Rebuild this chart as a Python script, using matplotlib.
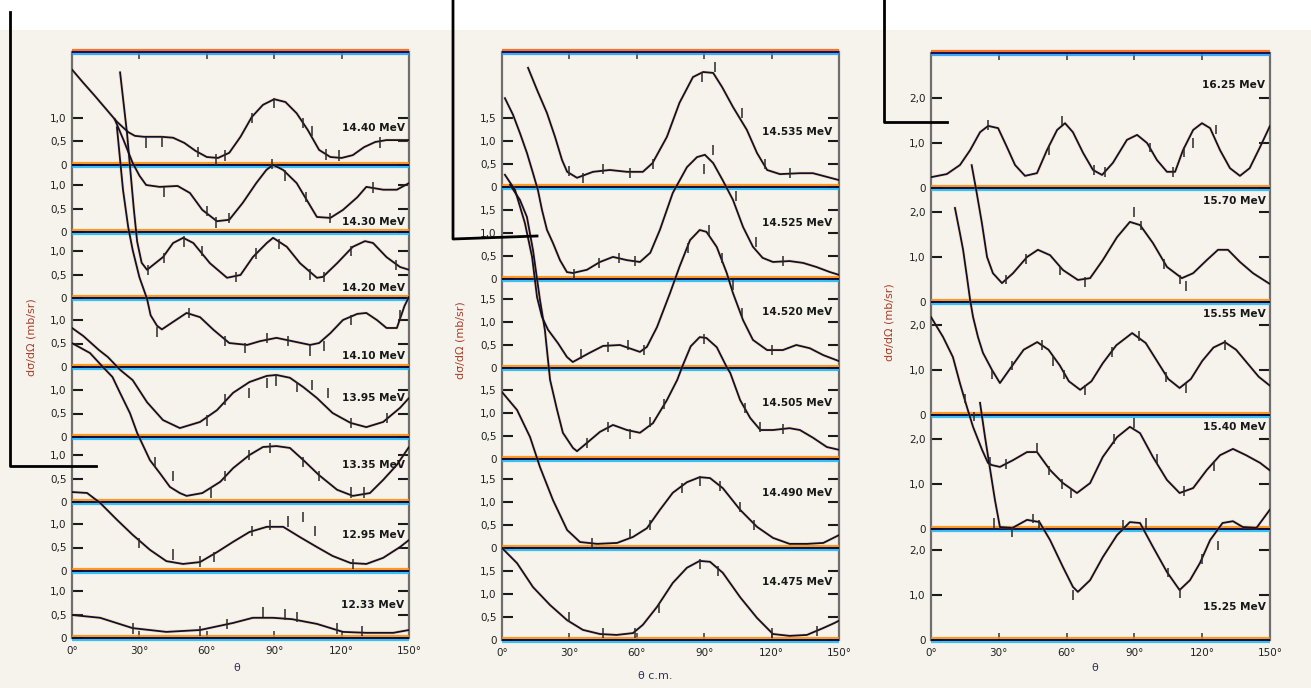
import matplotlib
matplotlib.use("Agg")
import matplotlib.pyplot as plt
from matplotlib.transforms import ScaledTranslation
from matplotlib.lines import Line2D
from matplotlib.patches import Rectangle

# ------------------------------------------------------------------ data
# ---- left panel (dsigma/dOmega in mb/sr vs theta in degrees)
L_labels = ["14.40 MeV", "14.30 MeV", "14.20 MeV", "14.10 MeV",
            "13.95 MeV", "13.35 MeV", "12.95 MeV", "12.33 MeV"]
L1_ang = [0, 5, 10, 15, 20, 25, 28, 32, 40, 45, 50, 55, 60, 65, 70, 75, 80, 85, 90, 95, 100, 105, 110, 115, 120, 125, 130, 135, 140, 150]
L1_val = [2.03, 1.75, 1.48, 1.2, 0.92, 0.7, 0.62, 0.6, 0.6, 0.58, 0.47, 0.3, 0.17, 0.15, 0.26, 0.6, 1.02, 1.28, 1.40, 1.34, 1.1, 0.74, 0.32, 0.17, 0.15, 0.21, 0.38, 0.49, 0.53, 0.53]
L2_ang = [19, 23, 27, 30, 33, 39, 47, 52.5, 58, 64.5, 70, 76, 82, 86.5, 89.5, 94, 100, 104.5, 109, 115, 120.6, 127, 131, 138.5, 144.6, 150]
L2_val = [2.4, 1.95, 1.47, 1.2, 1.0, 0.96, 0.98, 0.83, 0.47, 0.23, 0.26, 0.62, 1.04, 1.32, 1.43, 1.32, 1.04, 0.68, 0.32, 0.3, 0.47, 0.74, 0.96, 0.9, 0.9, 1.04]
L3_ang = [21.4, 24.5, 26, 27.5, 29, 31, 33.4, 40.5, 45, 49.5, 54, 61.4, 69, 75, 80.5, 86.7, 89.5, 95.6, 101.5, 109, 111.7, 118, 125, 130.4, 134, 140, 146, 150]
L3_val = [4.8, 3.5, 2.7, 1.9, 1.2, 0.75, 0.6, 0.87, 1.17, 1.28, 1.17, 0.74, 0.43, 0.49, 0.87, 1.17, 1.28, 1.09, 0.74, 0.43, 0.45, 0.74, 1.09, 1.21, 1.17, 0.87, 0.66, 0.6]
L4_ang = [20, 22.7, 25, 27, 30, 33.4, 35, 37.8, 40, 45, 51, 57, 63, 70, 78, 83.7, 91, 98, 106, 110, 115, 120.6, 127, 131, 135.7, 140, 144.6, 148, 150]
L4_val = [5.1, 3.77, 2.98, 2.49, 1.91, 1.45, 1.1, 0.88, 0.8, 0.96, 1.15, 1.06, 0.79, 0.51, 0.47, 0.55, 0.62, 0.55, 0.47, 0.51, 0.72, 1.0, 1.13, 1.15, 1.0, 0.83, 0.83, 1.3, 1.49]
L5_ang = [0, 5, 12, 16, 21.4, 27, 33.4, 40.5, 48, 57, 64.5, 71.7, 79, 86.7, 91, 97, 103, 109, 116, 124, 131, 138.5, 146, 150]
L5_val = [2.32, 2.15, 1.85, 1.7, 1.43, 1.21, 0.74, 0.36, 0.19, 0.32, 0.57, 0.94, 1.17, 1.30, 1.32, 1.26, 1.06, 0.83, 0.51, 0.30, 0.21, 0.32, 0.62, 0.83]
L6_ang = [0, 8, 13.8, 18, 21.4, 25.8, 29, 34.7, 39, 43.6, 48, 51, 58, 66, 71.7, 79, 85, 91, 97, 103, 110, 118, 125, 132.6, 138.5, 144.6, 150]
L6_val = [3.38, 3.17, 2.87, 2.66, 2.32, 1.89, 1.47, 0.89, 0.62, 0.32, 0.19, 0.13, 0.19, 0.43, 0.72, 1.0, 1.17, 1.19, 1.15, 0.89, 0.57, 0.26, 0.13, 0.19, 0.47, 0.79, 1.17]
L7_ang = [0, 6.7, 12.5, 20, 27, 34.7, 42, 49.4, 57, 64.5, 71.7, 79, 86.7, 94, 101.5, 109, 116, 124, 131, 138.5, 146, 150]
L7_val = [1.68, 1.66, 1.45, 1.09, 0.77, 0.45, 0.21, 0.15, 0.19, 0.40, 0.62, 0.83, 0.94, 0.94, 0.72, 0.51, 0.32, 0.17, 0.15, 0.28, 0.51, 0.66]
L8_ang = [0, 12.5, 27, 42, 57, 71.7, 80.5, 89.5, 98, 109, 120.6, 131, 143, 150]
L8_val = [0.49, 0.43, 0.21, 0.13, 0.17, 0.32, 0.43, 0.43, 0.40, 0.30, 0.13, 0.11, 0.11, 0.17]

L1_pa = [33, 40, 56, 64, 68, 80, 90, 103, 107, 113, 119, 137]
L1_pv = [0.48, 0.5, 0.28, 0.12, 0.2, 1.0, 1.32, 0.9, 0.72, 0.22, 0.2, 0.48]
L2_pa = [41, 60, 64, 70, 89, 95, 104, 115, 134]
L2_pv = [0.85, 0.45, 0.2, 0.3, 1.45, 1.2, 0.75, 0.3, 0.95]
L3_pa = [34, 41, 50, 58, 73, 82, 92, 106, 112, 124, 144]
L3_pv = [0.6, 0.85, 1.2, 1.0, 0.45, 0.95, 1.15, 0.5, 0.45, 1.0, 0.7]
L4_pa = [38, 52, 68, 77, 87, 96, 106, 112, 124, 146]
L4_pv = [0.75, 1.15, 0.55, 0.4, 0.62, 0.55, 0.35, 0.45, 1.0, 1.1]
L5_pa = [60, 68, 79, 87, 91, 100, 107, 114, 124, 140]
L5_pv = [0.35, 0.8, 0.94, 1.15, 1.2, 1.06, 1.1, 0.94, 0.3, 0.4]
L6_pa = [37, 45, 62, 68, 79, 88, 103, 110, 124, 130]
L6_pv = [0.85, 0.55, 0.2, 0.55, 1.0, 1.15, 0.85, 0.55, 0.2, 0.2]
L7_pa = [30, 45, 57, 63, 80, 88, 96, 103, 108, 125]
L7_pv = [0.6, 0.35, 0.2, 0.3, 0.85, 0.98, 1.05, 1.15, 0.85, 0.15]
L8_pa = [27, 57, 69, 85, 95, 100, 118, 129]
L8_pv = [0.2, 0.15, 0.3, 0.55, 0.5, 0.45, 0.2, 0.15]

# ---- middle panel
M_labels = ["14.535 MeV", "14.525 MeV", "14.520 MeV", "14.505 MeV", "14.490 MeV", "14.475 MeV"]
M1_ang = [11.6, 15.6, 20, 23.6, 26.7, 29, 33.4, 40.5, 48, 55.6, 62.7, 67, 73.4, 79, 85, 89.5, 94, 98, 102.8, 109, 113.5, 118, 123.7, 132.6, 138.4, 144.6, 150]
M1_val = [2.59, 2.11, 1.61, 1.09, 0.59, 0.33, 0.20, 0.33, 0.37, 0.33, 0.33, 0.52, 1.09, 1.83, 2.39, 2.5, 2.48, 2.17, 1.74, 1.24, 0.74, 0.37, 0.28, 0.30, 0.30, 0.22, 0.15]
M2_ang = [1.3, 4.9, 8, 11.1, 13.8, 16, 17.8, 20, 22.7, 25.8, 28.9, 31.5, 37.8, 43.6, 49.4, 55.6, 61.4, 66, 70.3, 76, 82.3, 86.8, 90.3, 94, 98.2, 102.8, 107.3, 111.7, 116, 120.6, 128, 134, 140, 146, 150]
M2_val = [3.93, 3.57, 3.17, 2.74, 2.30, 1.93, 1.5, 1.07, 0.78, 0.41, 0.15, 0.13, 0.2, 0.37, 0.48, 0.41, 0.37, 0.57, 1.07, 1.87, 2.43, 2.65, 2.7, 2.52, 2.15, 1.72, 1.13, 0.70, 0.46, 0.37, 0.39, 0.35, 0.26, 0.15, 0.09]
M3_ang = [1.3, 5.8, 10.2, 13.4, 15.6, 17.8, 20.5, 24.9, 28.9, 31.5, 39, 45, 52.5, 61.4, 64.5, 69, 74.8, 79, 83.7, 88, 91, 95.6, 100, 102.8, 107.3, 111.7, 118, 125, 131, 137, 143, 150]
M3_val = [4.2, 3.87, 3.15, 2.41, 1.54, 1.11, 0.83, 0.54, 0.24, 0.13, 0.33, 0.48, 0.5, 0.35, 0.46, 0.89, 1.63, 2.2, 2.78, 3.0, 2.96, 2.63, 2.07, 1.63, 1.04, 0.61, 0.39, 0.39, 0.50, 0.43, 0.28, 0.15]
M4_ang = [3.6, 8, 11.1, 13.8, 16.9, 19.1, 21.4, 24.5, 27.1, 31.6, 33.4, 37.8, 43.6, 49.4, 55.6, 61.4, 67.2, 73.4, 78, 80.5, 84, 88, 91, 95.6, 100, 101.6, 106, 110.5, 115, 120.6, 128, 132.6, 138.5, 144.6, 150]
M4_val = [5.96, 5.63, 5.26, 4.54, 3.46, 2.8, 1.72, 1.07, 0.57, 0.24, 0.17, 0.35, 0.59, 0.74, 0.63, 0.57, 0.78, 1.28, 1.72, 2.04, 2.45, 2.65, 2.63, 2.43, 2.0, 1.87, 1.28, 0.89, 0.63, 0.63, 0.67, 0.63, 0.46, 0.26, 0.2]
M5_ang = [0, 6.7, 12.5, 16.9, 22.7, 29, 34.7, 42.3, 51.2, 58.3, 64.5, 70.3, 76, 82.3, 88, 92.6, 98.3, 106, 113.5, 120.6, 128, 135.7, 143, 150]
M5_val = [3.39, 3.0, 2.41, 1.76, 1.04, 0.39, 0.13, 0.09, 0.11, 0.24, 0.43, 0.83, 1.2, 1.43, 1.54, 1.52, 1.30, 0.83, 0.46, 0.22, 0.09, 0.09, 0.11, 0.28]
M6_ang = [0, 6.7, 13.8, 21.4, 29, 36, 43.6, 51, 58.3, 62.7, 69, 76, 82.3, 88, 92.6, 98.3, 106, 113.5, 120.6, 128, 135.7, 143, 148, 150]
M6_val = [2.0, 1.67, 1.15, 0.76, 0.43, 0.22, 0.13, 0.11, 0.15, 0.33, 0.72, 1.24, 1.57, 1.72, 1.70, 1.46, 0.93, 0.48, 0.13, 0.09, 0.11, 0.26, 0.37, 0.42]

M1_pa = [30, 36, 45, 57, 67, 89, 95, 107, 117, 128]
M1_pv = [0.35, 0.2, 0.4, 0.3, 0.5, 2.4, 2.6, 1.6, 0.5, 0.3]
M2_pa = [32, 43, 52, 59, 90, 94, 104, 113, 125]
M2_pv = [0.1, 0.35, 0.45, 0.4, 2.4, 2.8, 1.8, 0.8, 0.4]
M3_pa = [35, 47, 56, 63, 83, 92, 98, 103, 107, 120]
M3_pv = [0.3, 0.45, 0.5, 0.4, 2.6, 3.0, 2.4, 1.8, 1.2, 0.4]
M4_pa = [38, 47, 57, 66, 72, 90, 108, 115, 125]
M4_pv = [0.35, 0.7, 0.55, 0.8, 1.2, 2.6, 1.1, 0.7, 0.65]
M5_pa = [40, 57, 66, 80, 88, 97, 106, 112]
M5_pv = [0.1, 0.3, 0.5, 1.3, 1.45, 1.35, 0.9, 0.5]
M6_pa = [30, 45, 59, 70, 88, 96, 120, 140]
M6_pv = [0.5, 0.15, 0.15, 0.7, 1.65, 1.5, 0.15, 0.2]

# ---- right panel
R_labels = ["16.25 MeV", "15.70 MeV", "15.55 MeV", "15.40 MeV", "15.25 MeV"]
R1_ang = [0, 7, 12.8, 17.3, 21.7, 25.3, 29.7, 33.6, 37.2, 41.6, 46.9, 51.3, 55.8, 59.3, 62.8, 67.3, 71.7, 75.7, 80.5, 86.7, 91.2, 95.6, 100, 104.4, 108, 111.5, 116, 119.9, 123.5, 127.9, 132.3, 136.7, 141, 145.6, 150]
R1_val = [0.24, 0.31, 0.51, 0.84, 1.24, 1.38, 1.33, 0.91, 0.51, 0.27, 0.33, 0.84, 1.29, 1.44, 1.24, 0.78, 0.40, 0.29, 0.56, 1.07, 1.18, 1.0, 0.62, 0.36, 0.36, 0.84, 1.29, 1.44, 1.33, 0.84, 0.44, 0.27, 0.44, 0.91, 1.38]
R2_ang = [18, 20, 22.5, 24.8, 27.4, 31.4, 36.3, 42.5, 47.3, 52.7, 58.4, 65, 70.4, 76, 82.3, 88, 92.5, 98.2, 104.4, 111, 116, 122, 127, 131.4, 136.7, 142.5, 148.7, 150]
R2_val = [3.04, 2.49, 1.76, 1.0, 0.64, 0.42, 0.64, 1.0, 1.16, 1.04, 0.71, 0.49, 0.53, 0.93, 1.44, 1.78, 1.71, 1.31, 0.78, 0.53, 0.64, 0.93, 1.16, 1.16, 0.89, 0.64, 0.44, 0.40]
R3_ang = [10.6, 12.8, 14.2, 15.9, 17.3, 18.6, 20.8, 23, 27, 30.5, 36, 41, 47, 52, 57, 61, 66, 71, 76, 82, 89, 95, 100, 105, 110, 115, 120, 125, 130, 135, 140, 145, 150]
R3_val = [4.6, 4.04, 3.67, 3.07, 2.56, 2.18, 1.73, 1.38, 1.0, 0.71, 1.1, 1.45, 1.62, 1.45, 1.1, 0.75, 0.56, 0.75, 1.15, 1.55, 1.82, 1.6, 1.2, 0.8, 0.6, 0.8, 1.2, 1.5, 1.62, 1.45, 1.15, 0.85, 0.65]
R4_ang = [0, 5.3, 9.7, 12.8, 15.9, 18.6, 22.6, 25.2, 27, 30.5, 36.3, 42.5, 46.9, 52.7, 58.4, 64.6, 70.4, 76, 82.3, 88, 92.5, 98.2, 104.4, 110, 116, 122, 127.9, 133.6, 139.4, 145.6, 150]
R4_val = [4.71, 4.27, 3.82, 3.24, 2.71, 2.27, 1.76, 1.47, 1.42, 1.38, 1.53, 1.71, 1.71, 1.31, 1.02, 0.8, 1.02, 1.6, 2.04, 2.27, 2.13, 1.6, 1.09, 0.8, 0.91, 1.31, 1.64, 1.78, 1.64, 1.47, 1.3]
R5_ang = [21.7, 23.9, 26, 28.3, 30.5, 36, 42.5, 48, 52.7, 58.4, 62.8, 65, 70.4, 76, 82.3, 88, 92.5, 98.2, 104.4, 110, 114.6, 119, 123.5, 129, 133.6, 138, 144, 150]
R5_val = [5.27, 4.51, 3.84, 3.11, 2.51, 2.49, 2.67, 2.62, 2.22, 1.62, 1.18, 1.07, 1.33, 1.84, 2.33, 2.62, 2.6, 2.07, 1.51, 1.11, 1.33, 1.71, 2.22, 2.6, 2.64, 2.51, 2.49, 2.9]

R1_pa = [25, 52, 58, 72, 77, 97, 107, 112, 116, 126]
R1_pv = [1.4, 0.85, 1.5, 0.4, 0.35, 0.9, 0.35, 0.8, 1.0, 1.3]
R2_pa = [33, 42, 57, 68, 90, 93, 103, 110, 113]
R2_pv = [0.5, 0.95, 0.7, 0.45, 2.0, 1.7, 0.85, 0.5, 0.35]
R3_pa = [27, 36, 49, 54, 59, 68, 80, 92, 104, 113, 130]
R3_pv = [0.9, 1.1, 1.55, 1.2, 0.9, 0.55, 1.4, 1.75, 0.85, 0.6, 1.55]
R4_pa = [15, 19, 26, 33, 47, 52, 58, 62, 81, 90, 100, 112, 125]
R4_pv = [2.9, 2.5, 1.5, 1.45, 1.8, 1.3, 1.0, 0.8, 2.0, 2.35, 1.55, 0.85, 1.4]
R5_pa = [28, 36, 45, 48, 63, 85, 95, 105, 110, 120, 127]
R5_pv = [2.6, 2.4, 2.7, 2.55, 1.0, 2.55, 2.6, 1.5, 1.05, 1.8, 2.1]

x_ticks = [0, 30, 60, 90, 120, 150]
x_ticklabels = ["0°", "30°", "60°", "90°", "120°", "150°"]
L_yticks = [0, 0.5, 1.0]
L_yticklabels = ["0", "0,5", "1,0"]
M_yticks = [0, 0.5, 1.0, 1.5]
M_yticklabels = ["0", "0,5", "1,0", "1,5"]
R_yticks = [0, 1.0, 2.0]
R_yticklabels = ["0", "1,0", "2,0"]
ylabel = "dσ/dΩ (mb/sr)"

# ------------------------------------------------------------------ layout
W, H = 1311, 688
BG = "#f6f3ec"
INK = "#10102a"

panels = [
    dict(box=(72, 409, 52, 638), scale=47.0,
         zeros=[165, 232, 298, 367, 437, 502, 571, 638],
         curves=[(L1_ang, L1_val), (L2_ang, L2_val), (L3_ang, L3_val), (L4_ang, L4_val),
                 (L5_ang, L5_val), (L6_ang, L6_val), (L7_ang, L7_val), (L8_ang, L8_val)],
         points=[(L1_pa, L1_pv), (L2_pa, L2_pv), (L3_pa, L3_pv), (L4_pa, L4_pv),
                 (L5_pa, L5_pv), (L6_pa, L6_pv), (L7_pa, L7_pv), (L8_pa, L8_pv)],
         labels=L_labels, label_y=[128, 222, 288, 356, 398, 465, 535, 605], label_x=148,
         yt=L_yticks, ytl=L_yticklabels, ylab=(32, 337), xlab="θ", xlab_pos=(237, 668)),
    dict(box=(502, 839, 52, 640), scale=46.0,
         zeros=[187, 279, 368, 459, 548, 640],
         curves=[(M1_ang, M1_val), (M2_ang, M2_val), (M3_ang, M3_val),
                 (M4_ang, M4_val), (M5_ang, M5_val), (M6_ang, M6_val)],
         points=[(M1_pa, M1_pv), (M2_pa, M2_pv), (M3_pa, M3_pv),
                 (M4_pa, M4_pv), (M5_pa, M5_pv), (M6_pa, M6_pv)],
         labels=M_labels, label_y=[132, 223, 312, 403, 493, 582], label_x=147,
         yt=M_yticks, ytl=M_yticklabels, ylab=(461, 340), xlab="θ c.m.", xlab_pos=(655, 676)),
    dict(box=(931, 1270, 53, 640), scale=45.0,
         zeros=[188, 302, 415, 529, 640],
         curves=[(R1_ang, R1_val), (R2_ang, R2_val), (R3_ang, R3_val),
                 (R4_ang, R4_val), (R5_ang, R5_val)],
         points=[(R1_pa, R1_pv), (R2_pa, R2_pv), (R3_pa, R3_pv),
                 (R4_pa, R4_pv), (R5_pa, R5_pv)],
         labels=R_labels, label_y=[85, 201, 314, 427, 607], label_x=148,
         yt=R_yticks, ytl=R_yticklabels, ylab=(890, 322), xlab="θ", xlab_pos=(1095, 668)),
]

fig = plt.figure(figsize=(W / 100, H / 100), dpi=100)
fig.patch.set_facecolor(BG)
fig.patches.append(Rectangle((0, 1 - 30 / H), 1, 30 / H, transform=fig.transFigure,
                             facecolor="white", edgecolor="none", zorder=0))


def px_shift(ax, dy_px):
    return ax.transData + ScaledTranslation(0, dy_px / 100.0, fig.dpi_scale_trans)


def striped_hline(ax, y, warm="#ff8a00", cool="#16b8f2", dark="#0d0d45"):
    ax.plot([0, 150], [y, y], color=warm, lw=1.6, alpha=0.85,
            transform=px_shift(ax, 1.8), solid_capstyle="butt", zorder=3, clip_on=False)
    ax.plot([0, 150], [y, y], color=cool, lw=1.6, alpha=0.85,
            transform=px_shift(ax, -1.8), solid_capstyle="butt", zorder=3, clip_on=False)
    ax.plot([0, 150], [y, y], color=dark, lw=1.4, solid_capstyle="butt", zorder=4, clip_on=False)


for p in panels:
    x0, x1, ytop, ybot = p["box"]
    s = p["scale"]
    ax = fig.add_axes([x0 / W, 1 - ybot / H, (x1 - x0) / W, (ybot - ytop) / H])
    ax.set_facecolor("none")
    ax.set_xlim(0, 150)
    ax.set_ylim(0, (ybot - ytop) / s)
    offsets = [(ybot - z) / s for z in p["zeros"]]

    for side in ("left", "right"):
        ax.spines[side].set_color("#6e6e6e")
        ax.spines[side].set_linewidth(1.6)
    ax.spines["top"].set_visible(False)
    ax.spines["bottom"].set_visible(False)
    striped_hline(ax, (ybot - ytop) / s, warm="#ff5a00", cool="#1c9cf0", dark="#101060")

    yt_pos, yt_lab = [], []
    for i, off in enumerate(offsets):
        striped_hline(ax, off)
        ang, val = p["curves"][i]
        yv = [off + v for v in val]
        ax.plot(ang, yv, color="#ff9020", lw=2.4, alpha=0.22, zorder=5,
                solid_joinstyle="round")
        ax.plot(ang, yv, color=INK, lw=1.3, zorder=6, solid_joinstyle="round")
        pa, pv = p["points"][i]
        ax.vlines(pa, [off + v - 0.11 for v in pv], [off + v + 0.11 for v in pv],
                  color="#2a2a2a", lw=1.1, zorder=7)
        ax.text(p["label_x"], (ybot - p["label_y"][i]) / s, p["labels"][i],
                ha="right", va="center", fontsize=7.6, fontweight="bold",
                color="#181818", zorder=8)
        for t, tl in zip(p["yt"], p["ytl"]):
            yt_pos.append(off + t)
            yt_lab.append(tl)

    ax.set_yticks(yt_pos)
    ax.set_yticklabels(yt_lab)
    ax.tick_params(axis="y", direction="in", length=8, width=1.5, color="#1a1a1a",
                   left=True, right=True, labelleft=True, labelright=False,
                   labelsize=7.5, pad=4, labelcolor="#202020")
    ax.set_xticks(x_ticks)
    ax.set_xticklabels(x_ticklabels)
    ax.tick_params(axis="x", direction="in", length=5, width=1.2, color="#444444",
                   top=True, bottom=True, labelsize=7.5, pad=6, labelcolor="#202020")

    fig.text(p["ylab"][0] / W, 1 - p["ylab"][1] / H, ylabel, rotation=90,
             ha="center", va="center", fontsize=8, color="#a8402a")
    fig.text(p["xlab_pos"][0] / W, 1 - p["xlab_pos"][1] / H, p["xlab"],
             ha="center", va="center", fontsize=8, color="#303060")

for xs, ys in [([10, 10, 96], [12, 466, 466]),
               ([453, 453, 537], [0, 239, 236]),
               ([884, 884, 947], [0, 122, 122])]:
    fig.add_artist(Line2D([x / W for x in xs], [1 - y / H for y in ys],
                          transform=fig.transFigure, color="black", lw=2.0, zorder=20))

fig.savefig("out.png", dpi=100, facecolor=BG)
